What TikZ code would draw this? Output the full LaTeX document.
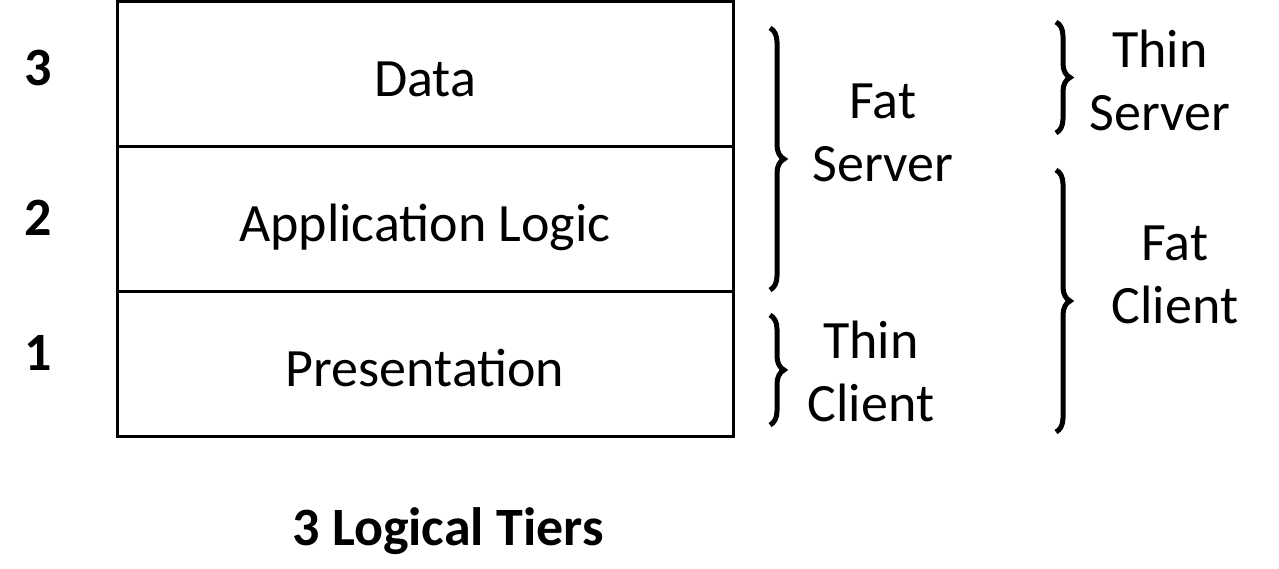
\documentclass[tikz,border=0pt]{standalone}
\usepackage{fontspec}
\setmainfont{Carlito}
\usetikzlibrary{decorations.pathreplacing}
\begin{document}
\begin{tikzpicture}[x=1pt,y=-1pt,
 tier/.style={draw, line width=3pt, minimum width=616pt, minimum height=145pt, inner sep=0pt, text height=50pt, text depth=5pt, font=\fontsize{54}{63}\selectfont},
 num/.style={anchor=base, font=\fontsize{54}{63}\selectfont\bfseries},
 lbl/.style={align=center, font=\fontsize{54}{63}\selectfont},
 brc/.style={decorate, decoration={brace, amplitude=14pt}, line width=5pt}]
\useasboundingbox (0,0) rectangle (1279,568);
\node[tier] (data) at (425,73.5) {Data};
\node[tier] (app) at (425,218.5) {Application Logic};
\node[tier] (pres) at (425,363.5) {Presentation};
\node[num] (n3) at (38,85) {3};
\node[num] (n2) at (38,235) {2};
\node[num] (n1) at (38,370) {1};
\node[num] (title) at (448,545) {3 Logical Tiers};
\coordinate (fs1) at (770,28);
\coordinate (fs2) at (770,290);
\coordinate (tc1) at (770,315);
\coordinate (tc2) at (770,425);
\coordinate (ts1) at (1056,22);
\coordinate (ts2) at (1056,133);
\coordinate (fc1) at (1056,170);
\coordinate (fc2) at (1056,432);
\draw[brc] (fs1) -- (fs2);
\draw[brc] (tc1) -- (tc2);
\draw[brc] (ts1) -- (ts2);
\draw[brc] (fc1) -- (fc2);
\node[lbl] (fatserver) at (883,133) {Fat\\Server};
\node[lbl] (thinclient) at (871,371) {Thin\\Client};
\node[lbl] (thinserver) at (1160,80) {Thin\\Server};
\node[lbl] (fatclient) at (1175,275) {Fat\\Client};
\end{tikzpicture}
\end{document}
